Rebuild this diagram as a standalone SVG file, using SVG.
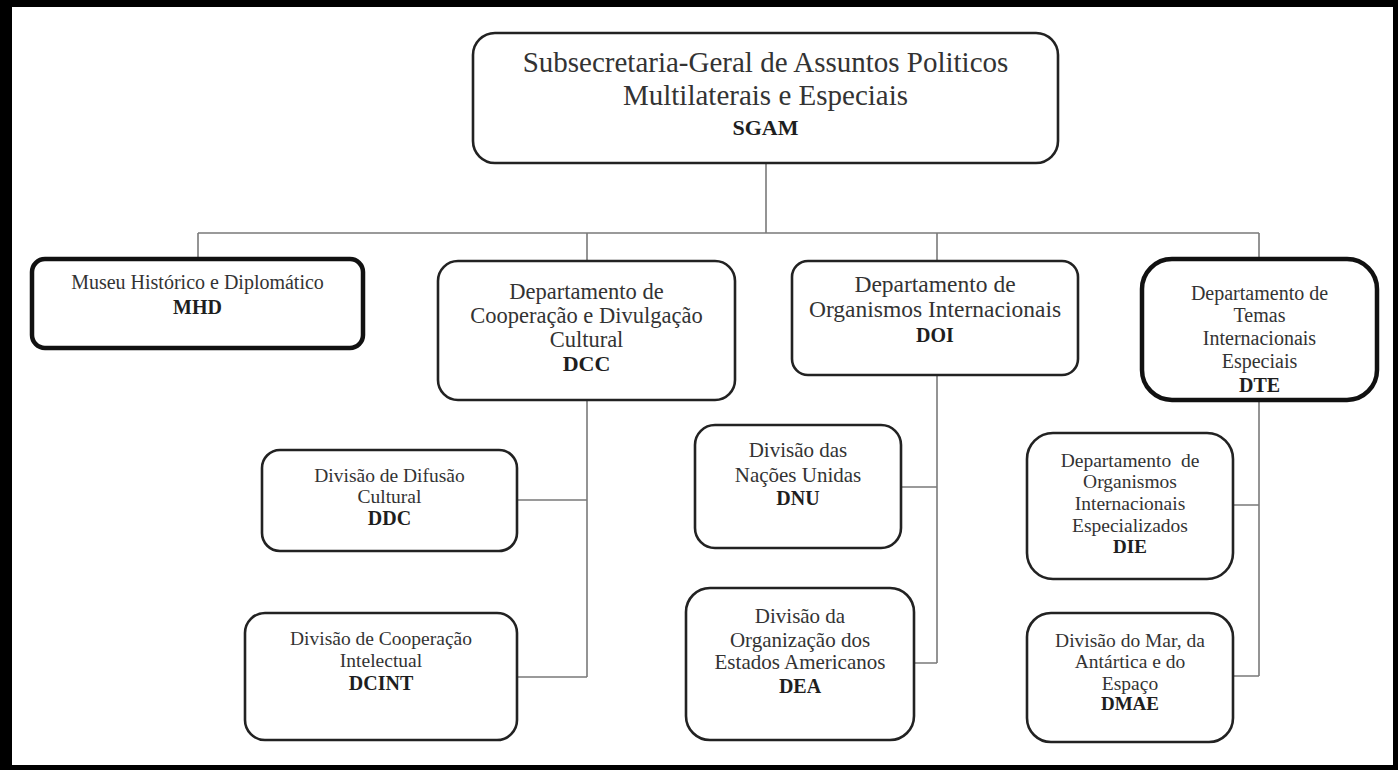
<svg xmlns="http://www.w3.org/2000/svg" width="1398" height="770" viewBox="0 0 1398 770">
<style>
.box{fill:#fff;stroke:#222;stroke-width:2.6}
.thick{fill:#fff;stroke:#111;stroke-width:4.5}
.conn{fill:none;stroke:#7a7a7a;stroke-width:1.6}
text{font-family:'Liberation Serif','Times New Roman',Times,'DejaVu Serif',serif;font-weight:400;fill:#333;text-anchor:middle}
text.b{font-weight:700;fill:#1e1e1e}
</style>
<rect x="0" y="0" width="1398" height="770" fill="#000"/>
<rect x="12" y="7" width="1381" height="758" fill="#fff"/>
<g id="connectors">
<path class="conn" d="M766 163V233M198 233H1259M198 233V259M587 233V261M937 233V261M1259 233V259"/>
<path class="conn" d="M587 400V677M517 500H587M517 677H587"/>
<path class="conn" d="M937 375V663M901 487H937M914 663H937"/>
<path class="conn" d="M1259 400V676M1233 505H1259M1233 676H1259"/>
</g>
<g id="SGAM">
<rect class="box" x="473" y="33" width="585" height="130" rx="22"/>
<text x="765.5" y="72" font-size="29">Subsecretaria-Geral de Assuntos Politicos</text>
<text x="765.5" y="105" font-size="29">Multilaterais e Especiais</text>
<text class="b" x="765.5" y="135" font-size="22">SGAM</text>
</g>
<g id="MHD">
<rect class="thick" x="32" y="259" width="331" height="89" rx="13"/>
<text x="197.5" y="289" font-size="20">Museu Histórico e Diplomático</text>
<text class="b" x="197.5" y="314" font-size="20">MHD</text>
</g>
<g id="DCC">
<rect class="box" x="438" y="261" width="297" height="139" rx="20"/>
<text x="586.5" y="299" font-size="22.5">Departamento de</text>
<text x="586.5" y="323" font-size="22.5">Cooperação e Divulgação</text>
<text x="586.5" y="347" font-size="22.5">Cultural</text>
<text class="b" x="586.5" y="371" font-size="22">DCC</text>
</g>
<g id="DOI">
<rect class="box" x="792" y="261" width="286" height="114" rx="16"/>
<text x="935" y="292" font-size="23.5">Departamento de</text>
<text x="935" y="317" font-size="23.5">Organismos Internacionais</text>
<text class="b" x="935" y="342" font-size="20">DOI</text>
</g>
<g id="DTE">
<rect class="thick" x="1142" y="259" width="235" height="141" rx="30"/>
<text x="1259.5" y="300" font-size="20">Departamento de</text>
<text x="1259.5" y="322" font-size="20">Temas</text>
<text x="1259.5" y="345" font-size="20">Internacionais</text>
<text x="1259.5" y="368" font-size="20">Especiais</text>
<text class="b" x="1259.5" y="392" font-size="20">DTE</text>
</g>
<g id="DDC">
<rect class="box" x="262" y="450" width="255" height="101" rx="18"/>
<text x="389.5" y="482" font-size="19.5">Divisão de Difusão</text>
<text x="389.5" y="503" font-size="19.5">Cultural</text>
<text class="b" x="389.5" y="525" font-size="20">DDC</text>
</g>
<g id="DCINT">
<rect class="box" x="245" y="613" width="272" height="127" rx="20"/>
<text x="381" y="645" font-size="19.5">Divisão de Cooperação</text>
<text x="381" y="667" font-size="19.5">Intelectual</text>
<text class="b" x="381" y="690" font-size="20">DCINT</text>
</g>
<g id="DNU">
<rect class="box" x="695" y="425" width="206" height="123" rx="20"/>
<text x="798" y="457" font-size="21">Divisão das</text>
<text x="798" y="482" font-size="21">Nações Unidas</text>
<text class="b" x="798" y="505" font-size="20">DNU</text>
</g>
<g id="DEA">
<rect class="box" x="686" y="588" width="228" height="152" rx="24"/>
<text x="800" y="623" font-size="21">Divisão da</text>
<text x="800" y="647" font-size="21">Organização dos</text>
<text x="800" y="669" font-size="21">Estados Americanos</text>
<text class="b" x="800" y="693" font-size="20">DEA</text>
</g>
<g id="DIE">
<rect class="box" x="1027" y="433" width="206" height="146" rx="26"/>
<text x="1130" y="467" font-size="19.5" xml:space="preserve">Departamento  de</text>
<text x="1130" y="488" font-size="19.5">Organismos</text>
<text x="1130" y="510" font-size="19.5">Internacionais</text>
<text x="1130" y="532" font-size="19.5">Especializados</text>
<text class="b" x="1130" y="553" font-size="19">DIE</text>
</g>
<g id="DMAE">
<rect class="box" x="1027" y="613" width="206" height="129" rx="24"/>
<text x="1130" y="647" font-size="19.5">Divisão do Mar, da</text>
<text x="1130" y="668" font-size="19.5">Antártica e do</text>
<text x="1130" y="690" font-size="19.5">Espaço</text>
<text class="b" x="1130" y="710" font-size="19">DMAE</text>
</g>
</svg>
